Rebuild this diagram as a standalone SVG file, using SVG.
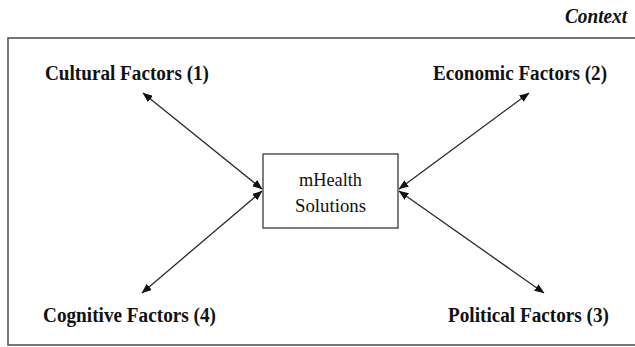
<svg xmlns="http://www.w3.org/2000/svg" width="635" height="347" viewBox="0 0 635 347">
<style>
.lbl{font-family:"Liberation Serif","Times New Roman",serif;font-weight:bold;font-size:20.5px;fill:#111}
.ctx{font-family:"Liberation Serif","Times New Roman",serif;font-weight:bold;font-style:italic;font-size:20px;fill:#111}
.box{fill:#fff;stroke:#3a3a3a;stroke-width:1.3}
.node-text{font-family:"Liberation Serif","Times New Roman",serif;font-size:19.5px;fill:#111;text-anchor:middle}
.conn{stroke:#2a2a2a;stroke-width:1.3;fill:none;marker-start:url(#ah);marker-end:url(#ah)}
</style>
<defs>
<marker id="ah" viewBox="0 0 10 8" refX="9.5" refY="4" markerWidth="10" markerHeight="8" markerUnits="userSpaceOnUse" orient="auto-start-reverse">
<path d="M0,0 L10,4 L0,8 z" fill="#111"/>
</marker>
</defs>
<rect id="frame" x="8" y="38" width="640" height="307" fill="none" stroke="#555" stroke-width="1.6"/>
<text id="context" class="ctx" x="627" y="23" text-anchor="end" textLength="62" lengthAdjust="spacingAndGlyphs">Context</text>
<g id="connectors">
<line class="conn" x1="143" y1="93" x2="262" y2="189"/>
<line class="conn" x1="529" y1="93" x2="399" y2="189"/>
<line class="conn" x1="544" y1="293" x2="399" y2="191"/>
<line class="conn" x1="142" y1="293" x2="262" y2="191"/>
</g>
<g id="mhealth">
<rect class="box" x="263" y="154" width="135" height="74"/>
<text class="node-text" x="330.5" y="186" textLength="63" lengthAdjust="spacingAndGlyphs">mHealth</text>
<text class="node-text" x="330.5" y="212" textLength="71" lengthAdjust="spacingAndGlyphs">Solutions</text>
</g>
<g id="cultural"><text class="lbl" x="45" y="80" textLength="164" lengthAdjust="spacingAndGlyphs">Cultural Factors (1)</text></g>
<g id="economic"><text class="lbl" x="433" y="80" textLength="174" lengthAdjust="spacingAndGlyphs">Economic Factors (2)</text></g>
<g id="political"><text class="lbl" x="448" y="322" textLength="161" lengthAdjust="spacingAndGlyphs">Political Factors (3)</text></g>
<g id="cognitive"><text class="lbl" x="43" y="322" textLength="173" lengthAdjust="spacingAndGlyphs">Cognitive Factors (4)</text></g>
</svg>
